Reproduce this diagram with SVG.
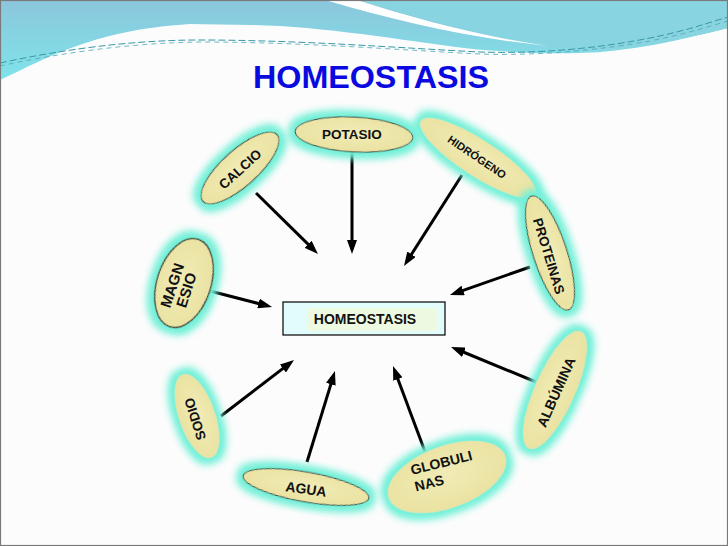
<svg xmlns="http://www.w3.org/2000/svg" width="728" height="546" viewBox="0 0 728 546">
<style>
.lbl{font-family:"Liberation Sans",Arial,sans-serif;font-weight:bold;fill:#111;text-anchor:middle}
.node{fill:url(#nodeFill)}
.stk{stroke:#2a2a2a;stroke-width:1}
.arr{stroke:#000;stroke-width:3;fill:none;marker-end:url(#ah)}
</style>
<defs>
<linearGradient id="hdr" x1="0" y1="0" x2="0" y2="80" gradientUnits="userSpaceOnUse">
<stop offset="0" stop-color="#8cc6dc"/>
<stop offset="1" stop-color="#7ee4ea"/>
</linearGradient>
<radialGradient id="nodeFill" cx="0.5" cy="0.45" r="0.6">
<stop offset="0" stop-color="#f1ecb6"/>
<stop offset="1" stop-color="#e9e19f"/>
</radialGradient>
<filter id="glow" x="-40%" y="-40%" width="180%" height="180%">
<feMorphology in="SourceAlpha" operator="dilate" radius="4" result="d"/>
<feGaussianBlur in="d" stdDeviation="4.5" result="b"/>
<feFlood flood-color="#74f0d8"/>
<feComposite in2="b" operator="in" result="g"/>
<feMerge><feMergeNode in="g"/><feMergeNode in="g"/><feMergeNode in="SourceGraphic"/></feMerge>
</filter>
<marker id="ah" markerUnits="userSpaceOnUse" markerWidth="14" markerHeight="10" refX="6" refY="5" orient="auto">
<path d="M0,0 L14,5 L0,10 Z" fill="#000"/>
</marker>
</defs>
<rect x="0" y="0" width="728" height="546" fill="#fcfcfc"/>
<g id="header">
<path d="M0,0 H728 V28 C680,40 630,52 580,53 C540,54 500,52 464,48 C400,40 320,26 250,25 L190,24 C90,30 40,62 0,80 Z" fill="url(#hdr)"/>
<path d="M357,0 H728 V28 C680,40 630,50 580,51 C560,51 550,49 546,46 C480,34 410,16 357,0 Z" fill="#88d4e0"/>
<path d="M325,0 L357,0 C420,20 480,36 548,46 C470,38 400,22 325,0 Z" fill="#ffffff"/>
<path d="M0,63 C60,50 130,40 200,40 C300,40 400,48 480,52 C540,54 600,48 650,38 C690,30 710,22 728,17" fill="none" stroke="#3a98a8" stroke-width="1" stroke-dasharray="7 3"/>
<path d="M0,66 C60,53 130,43 200,42 C300,42 400,50 480,54 C540,56 600,50 650,41 C690,33 710,26 728,21" fill="none" stroke="#4aa8b4" stroke-width="0.8" stroke-dasharray="5 4"/>
</g>
<rect x="0.5" y="0.5" width="727" height="545" fill="none" stroke="#7a7a7a" stroke-width="1.2"/>
<text x="371" y="88" font-family="'Liberation Sans',Arial,sans-serif" font-weight="bold" font-size="31" fill="#0a0ae0" text-anchor="middle" textLength="236" lengthAdjust="spacingAndGlyphs">HOMEOSTASIS</text>
<g id="connectors">
<line class="arr" x1="256" y1="193" x2="312.3" y2="248.4"/>
<line class="arr" x1="352" y1="152" x2="352" y2="246"/>
<line class="arr" x1="462" y1="175" x2="408.3" y2="259.3"/>
<line class="arr" x1="530" y1="267" x2="457.5" y2="292.4"/>
<line class="arr" x1="210" y1="291" x2="264.3" y2="305"/>
<line class="arr" x1="221" y1="416" x2="287.7" y2="364.9"/>
<line class="arr" x1="307" y1="462" x2="332.6" y2="378.6"/>
<line class="arr" x1="427" y1="457" x2="395.8" y2="373.5"/>
<line class="arr" x1="536" y1="382" x2="458.4" y2="350"/>
</g>
<g id="center">
<rect x="283" y="302" width="162" height="33" fill="#e2fbfb" stroke="#000" stroke-width="1.2"/>
<rect x="307" y="308" width="130" height="23" fill="#eef9e2"/>
<text class="lbl" x="365" y="324" font-size="14">HOMEOSTASIS</text>
</g>
<g id="calcio">
<ellipse class="node stk" cx="240" cy="168" rx="50" ry="18" transform="rotate(-42 240 168)" filter="url(#glow)"/>
<text class="lbl" font-size="13.5" dy="0.36em" transform="translate(240,169) rotate(-42)">CALCIO</text>
</g>
<g id="potasio">
<ellipse class="node stk" cx="354" cy="134.5" rx="59" ry="17.5" transform="rotate(3 354 134.5)" filter="url(#glow)"/>
<text class="lbl" x="352" y="139" font-size="13.5">POTASIO</text>
</g>
<g id="hidrogeno">
<ellipse class="node" cx="478" cy="158" rx="68" ry="18" transform="rotate(33 478 158)" filter="url(#glow)"/>
<text class="lbl" font-size="11" dy="0.36em" transform="translate(477,157) rotate(34)">HIDRÓGENO</text>
</g>
<g id="proteinas">
<ellipse class="node stk" cx="550" cy="253" rx="60" ry="17" transform="rotate(72 550 253)" filter="url(#glow)"/>
<text class="lbl" font-size="13.5" dy="0.36em" transform="translate(549,256) rotate(73)">PROTEINAS</text>
</g>
<g id="magnesio">
<ellipse class="node" cx="184" cy="283" rx="46" ry="27" transform="rotate(-72 184 283)" filter="url(#glow)" stroke="#4a4a3a" stroke-width="1.6"/>
<text class="lbl" font-size="15" transform="translate(180,288) rotate(-72)"><tspan x="0" y="-3">MAGN</tspan><tspan x="0" y="12">ESIO</tspan></text>
</g>
<g id="sodio">
<ellipse class="node" cx="197" cy="416" rx="44" ry="18" transform="rotate(71 197 416)" filter="url(#glow)"/>
<text class="lbl" font-size="13.5" dy="0.36em" transform="translate(195,419) rotate(-108)">SODIO</text>
</g>
<g id="agua">
<ellipse class="node stk" cx="306" cy="487" rx="64" ry="15" transform="rotate(10 306 487)" filter="url(#glow)"/>
<text class="lbl" font-size="14" dy="0.36em" transform="translate(306,489) rotate(8)">AGUA</text>
</g>
<g id="globulinas">
<ellipse class="node" cx="447" cy="477" rx="62" ry="31" transform="rotate(-20 447 477)" filter="url(#glow)"/>
<text class="lbl" font-size="14" style="text-anchor:start" transform="translate(412,475) rotate(-14)"><tspan x="0" y="0">GLOBULI</tspan><tspan x="0" y="17">NAS</tspan></text>
</g>
<g id="albumina">
<ellipse class="node" cx="555" cy="390" rx="64" ry="20" transform="rotate(-66 555 390)" filter="url(#glow)"/>
<text class="lbl" font-size="14" dy="0.36em" transform="translate(556,392) rotate(-66)">ALBÚMINA</text>
</g>
</svg>
